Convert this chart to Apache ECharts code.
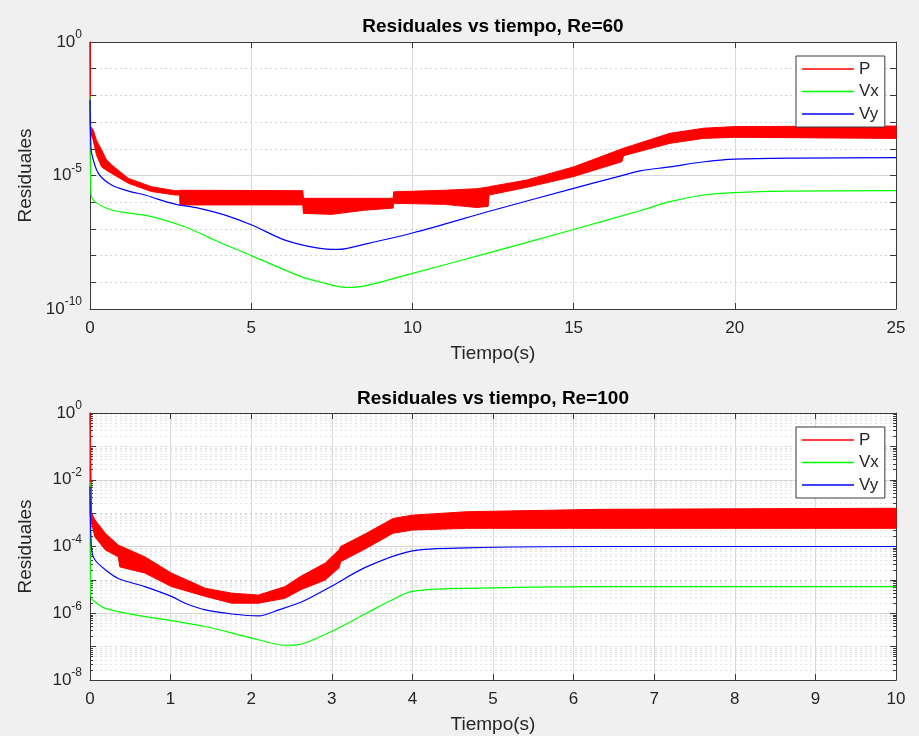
<!DOCTYPE html>
<html><head><meta charset="utf-8">
<script src="https://cdn.jsdelivr.net/npm/echarts@6/dist/echarts.min.js"></script>
<style>html,body{margin:0;padding:0;background:#f0f0f0}#c{width:919px;height:736px}</style>
</head><body><div id="c"></div>
<script>
// ---------- Re = 60 ----------
const tVy60 = [0, 0.02, 0.05, 0.26, 0.67, 1.2, 1.71, 2.1, 2.64, 3.36, 4.19, 5.02, 6.05, 7.08, 7.7, 8.53, 10.03, 12.5, 15.0, 16.44, 17.06, 17.99, 19.0, 20.0, 22.0, 25.0];
const vy60  = [6.8e-3, 2.5e-4, 6.9e-5, 1.2e-5, 4.4e-6, 2.6e-6, 1.86e-6, 1.3e-6, 8.5e-7, 6.0e-7, 3.3e-7, 1.4e-7, 3.8e-8, 1.9e-8, 1.7e-8, 2.7e-8, 7.2e-8, 5.0e-7, 3.3e-6, 9.5e-6, 1.5e-5, 2.1e-5, 3.2e-5, 4.1e-5, 4.5e-5, 4.7e-5];
const tVx60 = [0, 0.03, 0.15, 0.67, 1.29, 1.91, 2.94, 3.98, 5.02, 6.57, 7.19, 7.91, 8.53, 10.03, 12.51, 15.0, 17.06, 17.99, 19.03, 20.0, 21.6, 25.0];
const vx60  = [9.5e-3, 2.1e-6, 1.05e-6, 5.1e-7, 3.8e-7, 2.9e-7, 1.2e-7, 3.3e-8, 9.8e-9, 1.6e-9, 9.8e-10, 6.5e-10, 7.4e-10, 2.2e-9, 1.4e-8, 9.5e-8, 4.8e-7, 1.05e-6, 1.86e-6, 2.3e-6, 2.6e-6, 2.7e-6];
const tP60  = [0, 0.02, 0.1, 0.2, 0.36, 0.5, 0.67, 1.19, 1.91, 2.64, 2.78, 2.79, 6.6, 6.62, 7.5, 8.5, 9.4, 9.42, 11.0, 12.0, 12.35, 12.38, 13.55, 15.0, 16.5, 16.55, 17.99, 19.03, 20.0, 25.0];
const pUp60 = [1, 6.8e-4, 5.0e-4, 2.1e-4, 9.1e-5, 4.1e-5, 2.5e-5, 7.8e-6, 3.8e-6, 2.7e-6, 2.7e-6, 2.8e-6, 2.7e-6, 1.4e-6, 1.4e-6, 1.4e-6, 1.4e-6, 2.45e-6, 2.8e-6, 3.2e-6, 3.7e-6, 3.8e-6, 6.8e-6, 2.1e-5, 1.0e-4, 1.05e-4, 3.8e-4, 5.9e-4, 6.8e-4, 7.1e-4];
const pLo60 = [1e-3, 4.0e-4, 2.1e-4, 5.9e-5, 2.1e-5, 1.6e-5, 1.2e-5, 5.1e-6, 2.5e-6, 1.86e-6, 1.86e-6, 7.9e-7, 7.9e-7, 3.8e-7, 3.5e-7, 5.0e-7, 6.0e-7, 9.1e-7, 8.3e-7, 6.3e-7, 7.0e-7, 1.86e-6, 3.6e-6, 9.1e-6, 3.3e-5, 5.5e-5, 1.6e-4, 2.45e-4, 2.7e-4, 2.45e-4];

// ---------- Re = 100 ----------
const tVy100 = [0, 0.02, 0.06, 0.19, 0.35, 0.68, 1.01, 1.18, 1.43, 1.76, 2.09, 2.34, 2.63, 2.99, 3.43, 4.0, 4.67, 6.33, 10.0];
const vy100  = [6.2e-3, 7.9e-5, 4.0e-5, 2.0e-5, 1.1e-5, 6.3e-6, 3.2e-6, 2.0e-6, 1.26e-6, 9.5e-7, 8.3e-7, 1.26e-6, 2.2e-6, 6.3e-6, 2.45e-5, 7.4e-5, 9.1e-5, 1.0e-4, 1.0e-4];
const tVx100 = [0, 0.01, 0.06, 0.19, 0.56, 1.01, 1.43, 2.01, 2.42, 2.59, 2.99, 3.43, 3.7, 4.0, 4.67, 6.33, 10.0];
const vx100  = [8.7e-3, 3.2e-6, 2.2e-6, 1.4e-6, 8.9e-7, 6.0e-7, 4.0e-7, 1.8e-7, 1.1e-7, 1.15e-7, 2.8e-7, 1.0e-6, 2.2e-6, 4.5e-6, 5.6e-6, 6.3e-6, 6.3e-6];
const tP100  = [0, 0.02, 0.06, 0.19, 0.35, 0.37, 0.68, 1.01, 1.43, 1.76, 2.09, 2.42, 2.61, 2.92, 3.09, 3.11, 3.43, 3.76, 4.0, 4.67, 6.33, 10.0];
const pUp100 = [1, 1.0e-3, 6.3e-4, 2.5e-4, 1.1e-4, 1.05e-4, 4.9e-5, 1.6e-5, 5.6e-6, 4.0e-6, 3.5e-6, 6.3e-6, 1.26e-5, 3.2e-5, 8.0e-5, 1.0e-4, 2.5e-4, 6.9e-4, 8.7e-4, 1.1e-3, 1.3e-3, 1.4e-3];
const pLo100 = [1e-3, 5.0e-4, 1.95e-4, 7.9e-5, 4.9e-5, 2.45e-5, 1.6e-5, 6.3e-6, 3.2e-6, 2.0e-6, 2.0e-6, 2.8e-6, 5.0e-6, 1.0e-5, 2.3e-5, 3.5e-5, 8.9e-5, 2.5e-4, 3.1e-4, 3.5e-4, 3.5e-4, 3.5e-4];

const legendNames = ['P', 'Vx', 'Vy'];
const titles = ['Residuales vs tiempo, Re=60', 'Residuales vs tiempo, Re=100'];

const FONT = '"Liberation Sans", Arial, Helvetica, sans-serif';
const TXT = '#262626';
const AX = '#3a3a3a';

function pairs(t, v) { return t.map((x, i) => [x, v[i]]); }
function supLabel(v) { const e = Math.round(Math.log10(v)); return '{b|10}{s|' + e + '}'; }

const labelRich = {
  b: { fontSize: 17, fontFamily: FONT, color: TXT, lineHeight: 26 },
  s: { fontSize: 12, fontFamily: FONT, color: TXT, lineHeight: 12, verticalAlign: 'top' }
};

function yAxes(grid, min, max, majorInt, minor) {
  const base = { type: 'log', logBase: 10, min: min, max: max, gridIndex: grid };
  return [
    Object.assign({}, base, {
      position: 'left', interval: majorInt,
      axisLine: { show: true, lineStyle: { color: AX, width: 1 } },
      axisTick: { show: false },
      axisLabel: { formatter: supLabel, rich: labelRich, margin: 8, color: TXT },
      splitLine: { show: true, lineStyle: { color: '#d9d9d9', width: 1 } },
      name: 'Residuales', nameLocation: 'middle', nameGap: 55,
      nameTextStyle: { fontSize: 19, fontFamily: FONT, color: TXT }
    }),
    Object.assign({}, base, {
      position: 'left', interval: 1,
      axisLine: { show: false },
      axisTick: { show: true, inside: true, length: 6, lineStyle: { color: AX } },
      minorTick: { show: minor, splitNumber: 9, length: 3, lineStyle: { color: AX } },
      axisLabel: { show: false },
      splitLine: { show: true, lineStyle: { color: '#d3d3d3', type: [2, 3], width: 1 } },
      minorSplitLine: { show: minor, lineStyle: { color: '#e2e2e2', type: [2, 3], width: 1 } }
    }),
    Object.assign({}, base, {
      position: 'right', interval: 1,
      axisLine: { show: true, lineStyle: { color: AX, width: 1 } },
      axisTick: { show: true, inside: true, length: 6, lineStyle: { color: AX } },
      minorTick: { show: minor, splitNumber: 9, length: 3, lineStyle: { color: AX } },
      axisLabel: { show: false },
      splitLine: { show: false }
    })
  ];
}

function xAxes(grid, max, interval) {
  const base = { type: 'value', min: 0, max: max, interval: interval, gridIndex: grid };
  return [
    Object.assign({}, base, {
      position: 'bottom',
      axisLine: { show: true, onZero: false, lineStyle: { color: AX, width: 1 } },
      axisTick: { show: true, inside: true, length: 6, lineStyle: { color: AX } },
      axisLabel: { fontSize: 17, fontFamily: FONT, color: TXT, margin: 11 },
      splitLine: { show: true, lineStyle: { color: '#d9d9d9', width: 1 } },
      name: 'Tiempo(s)', nameLocation: 'middle', nameGap: 35,
      nameTextStyle: { fontSize: 19, fontFamily: FONT, color: TXT }
    }),
    Object.assign({}, base, {
      position: 'top',
      axisLine: { show: true, onZero: false, lineStyle: { color: AX, width: 1 } },
      axisTick: { show: true, inside: true, length: 6, lineStyle: { color: AX } },
      axisLabel: { show: false },
      splitLine: { show: false }
    })
  ];
}

function band(name, xi, yi, t, up, lo) {
  return {
    type: 'custom', name: name, xAxisIndex: xi, yAxisIndex: yi, z: 2,
    itemStyle: { color: '#ff0000' },
    data: [[t[0], up[0]]],
    renderItem: function (params, api) {
      const pts = [];
      for (let i = 0; i < t.length; i++) pts.push(api.coord([t[i], up[i]]));
      for (let i = t.length - 1; i >= 0; i--) pts.push(api.coord([t[i], lo[i]]));
      return { type: 'polygon', shape: { points: pts }, style: { fill: '#ff0000', stroke: '#ff0000', lineWidth: 1 } };
    }
  };
}

function line(name, xi, yi, t, v, color) {
  return {
    type: 'line', name: name, xAxisIndex: xi, yAxisIndex: yi, z: 3,
    data: pairs(t, v), showSymbol: false, symbol: 'none',
    smooth: 0.3,
    lineStyle: { color: color, width: 1.2 }, itemStyle: { color: color }
  };
}

function legend(top) {
  return {
    orient: 'vertical', left: 796, top: top, width: 86,
    data: legendNames, icon: 'rect', itemWidth: 52, itemHeight: 1.5, itemGap: 4.5,
    padding: [4, 6, 4, 6],
    backgroundColor: '#ffffff', borderColor: '#3a3a3a', borderWidth: 1, borderRadius: 0,
    textStyle: { fontSize: 17, fontFamily: FONT, color: TXT, lineHeight: 18 },
    selectedMode: false
  };
}

const chart = echarts.init(document.getElementById('c'), null, { renderer: 'canvas' });
chart.setOption({
  animation: false,
  backgroundColor: '#f0f0f0',
  title: [
    { text: titles[0], left: 493, top: 17, textAlign: 'center', padding: 0,
      textStyle: { fontSize: 19, fontWeight: 'bold', fontFamily: FONT, color: '#000' } },
    { text: titles[1], left: 493, top: 389, textAlign: 'center', padding: 0,
      textStyle: { fontSize: 19, fontWeight: 'bold', fontFamily: FONT, color: '#000' } }
  ],
  legend: [legend(56), legend(427)],
  grid: [
    { left: 90, top: 42, width: 806, height: 267, backgroundColor: '#ffffff', show: true, borderWidth: 0 },
    { left: 90, top: 413, width: 806, height: 267, backgroundColor: '#ffffff', show: true, borderWidth: 0 }
  ],
  xAxis: [].concat(xAxes(0, 25, 5), xAxes(1, 10, 1)),
  yAxis: [].concat(yAxes(0, 1e-10, 1, 5, false), yAxes(1, 1e-8, 1, 2, true)),
  series: [
    band('P', 0, 0, tP60, pUp60, pLo60),
    line('Vx', 0, 0, tVx60, vx60, '#00ff00'),
    line('Vy', 0, 0, tVy60, vy60, '#0000ff'),
    band('P', 2, 3, tP100, pUp100, pLo100),
    line('Vx', 2, 3, tVx100, vx100, '#00ff00'),
    line('Vy', 2, 3, tVy100, vy100, '#0000ff')
  ]
});
</script></body></html>
